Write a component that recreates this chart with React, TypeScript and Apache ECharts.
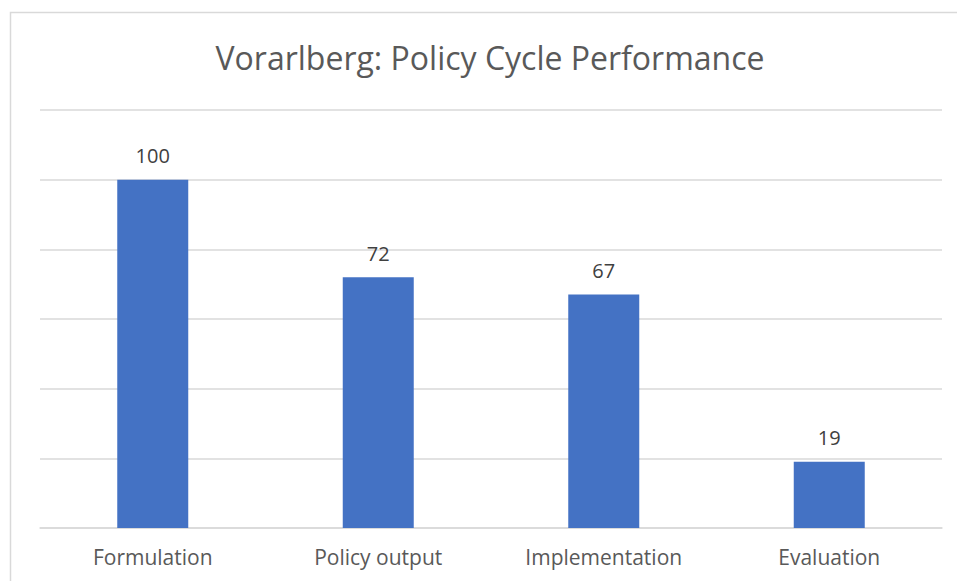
import React, { useEffect, useRef } from "react";
import * as echarts from "echarts";

const categories = ["Formulation", "Policy output", "Implementation", "Evaluation"];
const values = [100, 72, 67, 19];
const titleText = "Vorarlberg: Policy Cycle Performance";

export default function App() {
  const ref = useRef<HTMLDivElement>(null);
  useEffect(() => {
    if (!ref.current) return;
    const chart = echarts.init(ref.current, null, { renderer: "svg" });
    const font = "'Open Sans', 'Noto Sans', sans-serif";
    chart.setOption({
      animation: false,
      backgroundColor: "#ffffff",
      graphic: [
        {
          type: "rect",
          shape: { x: 10.5, y: 12.5, width: 960, height: 600 },
          style: { fill: "none", stroke: "#d9d9d9", lineWidth: 1.5 },
          silent: true,
        },
        {
          type: "text",
          x: 490,
          y: 57,
          style: {
            text: titleText,
            fontFamily: font,
            fontSize: 32,
            fill: "#595959",
            textAlign: "center",
            textVerticalAlign: "middle",
          },
        },
      ],
      grid: { left: 40, right: 15, top: 110, bottom: 53, containLabel: false },
      xAxis: {
        type: "category",
        data: categories,
        axisLine: { show: true, lineStyle: { color: "#d9d9d9", width: 1.5 } },
        axisTick: { show: false },
        axisLabel: { color: "#595959", fontSize: 21, fontFamily: font, margin: 18 },
      },
      yAxis: {
        type: "value",
        min: 0,
        max: 120,
        interval: 20,
        axisLabel: { show: false },
        axisLine: { show: false },
        axisTick: { show: false },
        splitLine: { lineStyle: { color: "#d9d9d9", width: 1.5 } },
      },
      series: [
        {
          type: "bar",
          data: values,
          barWidth: 71,
          itemStyle: { color: "#4472C4" },
          label: {
            show: true,
            position: "top",
            distance: 14,
            color: "#404040",
            fontSize: 20,
            fontFamily: font,
          },
        },
      ],
    });
    return () => chart.dispose();
  }, []);
  return (
    <div
      ref={ref}
      style={{ position: "fixed", left: 0, top: 0, width: 957, height: 581, background: "#fff" }}
    />
  );
}
